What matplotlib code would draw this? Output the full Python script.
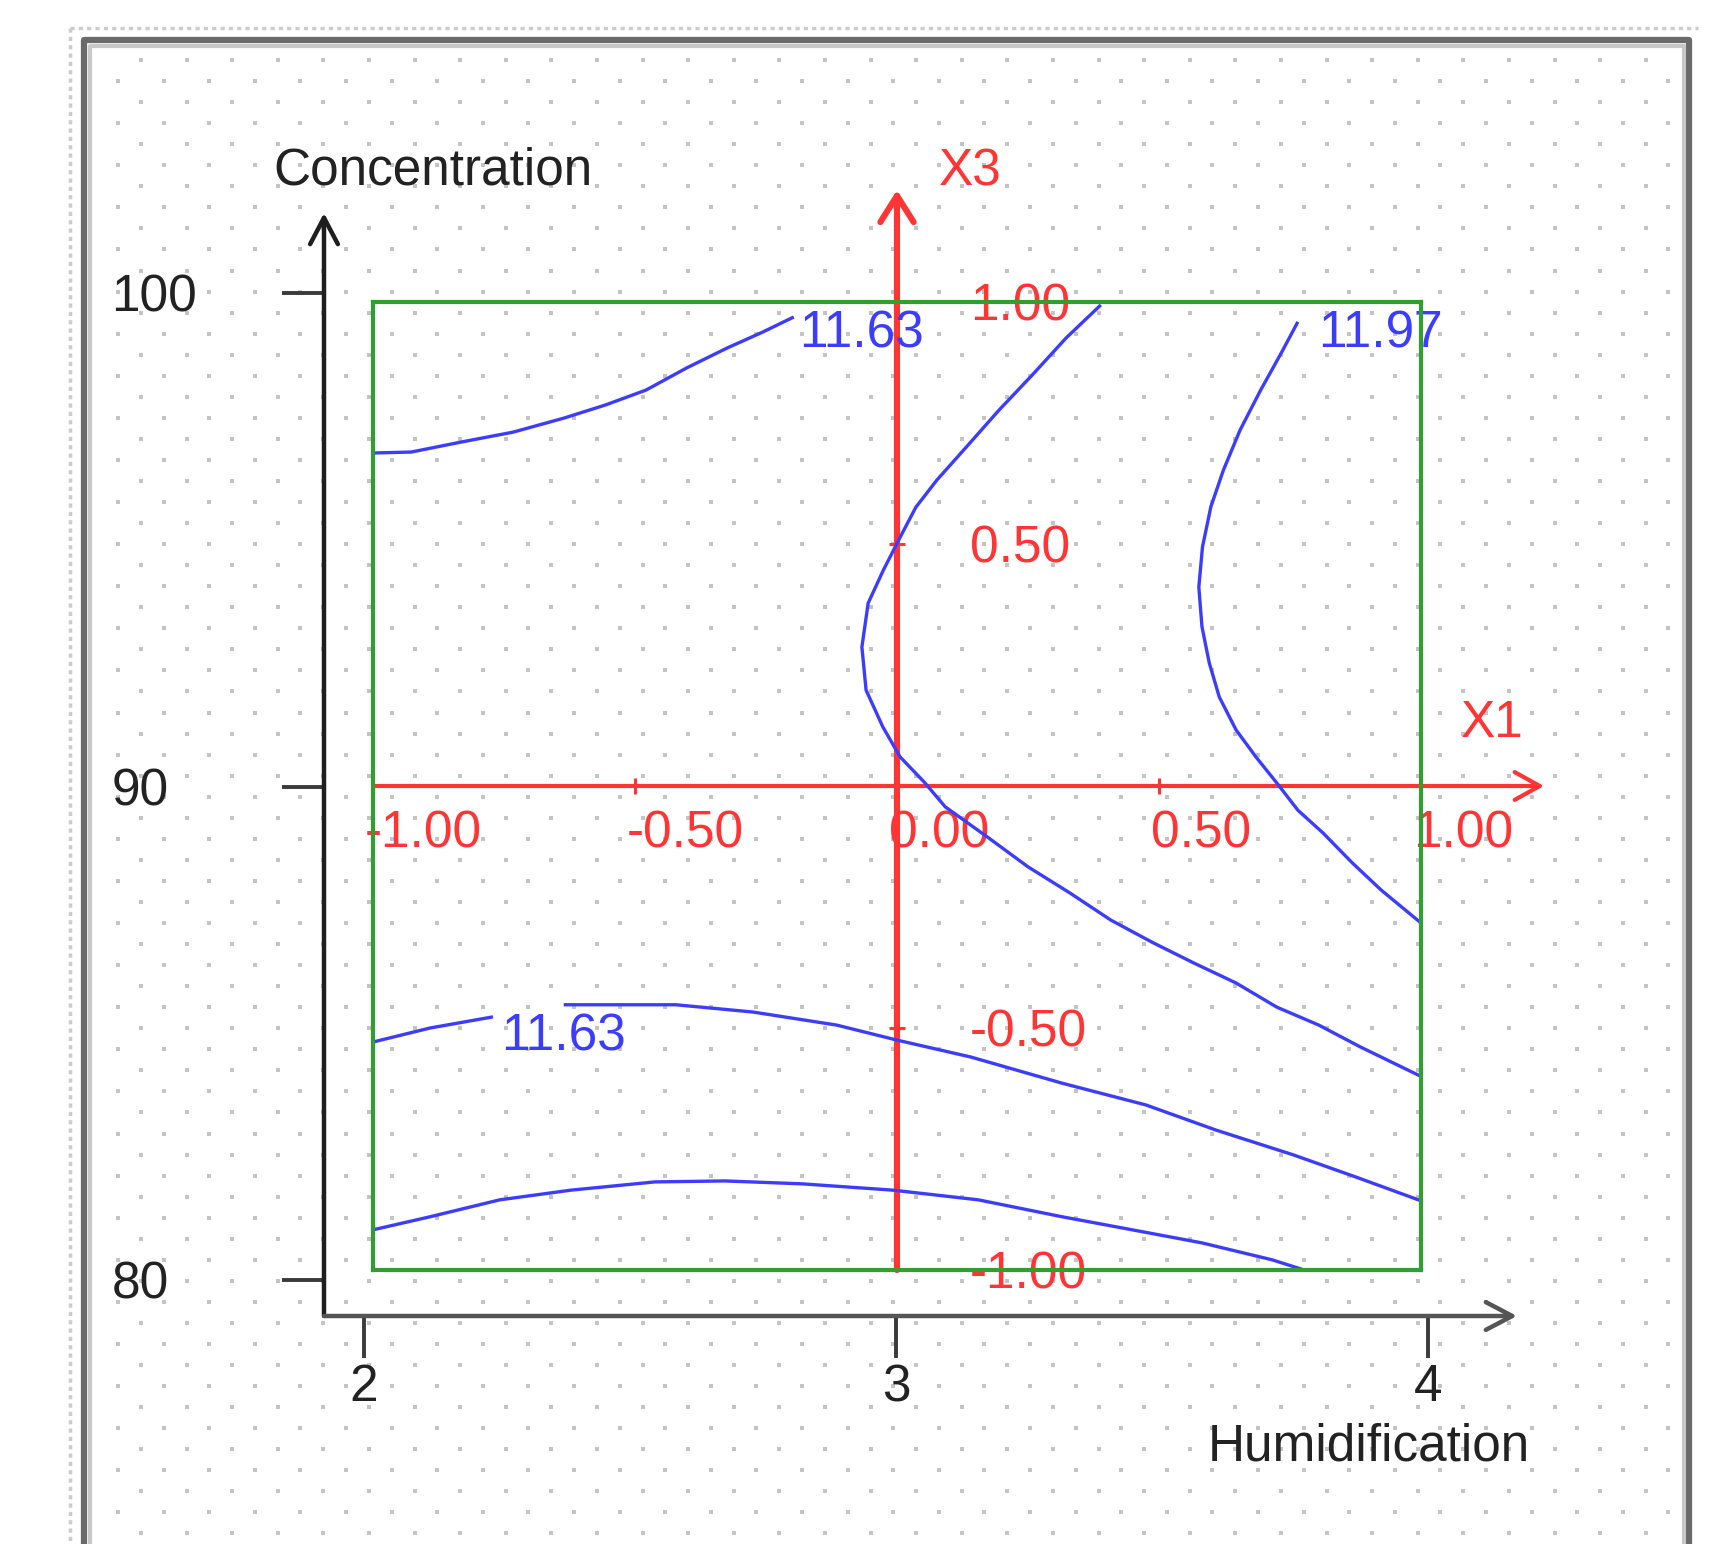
import numpy as np
import matplotlib.pyplot as plt

plt.rcParams['font.family'] = ['Liberation Sans', 'DejaVu Sans']

# natural factor scales
humid_ticks = [2, 3, 4]
conc_ticks = [80, 90, 100]

# coded factor scales (red axes)
x1_ticks = [-1.0, -0.5, 0.0, 0.5, 1.0]
x3_ticks = [-1.0, -0.5, 0.5, 1.0]

# iso-response lines in coded units (X1, X3)
upper_1163 = [(-1.0, 0.688), (-0.927, 0.690), (-0.830, 0.711), (-0.733, 0.731),
              (-0.636, 0.760), (-0.557, 0.787), (-0.479, 0.818), (-0.401, 0.864),
              (-0.324, 0.905), (-0.256, 0.938), (-0.197, 0.969)]
middle_line = [(0.389, 0.994), (0.323, 0.926), (0.258, 0.849), (0.195, 0.777),
               (0.132, 0.700), (0.076, 0.632), (0.036, 0.576), (0.006, 0.514),
               (-0.026, 0.446), (-0.055, 0.378), (-0.067, 0.287), (-0.059, 0.198),
               (-0.027, 0.122), (0.006, 0.060), (0.052, 0.008), (0.092, -0.043),
               (0.172, -0.105), (0.250, -0.167), (0.330, -0.221), (0.408, -0.277),
               (0.489, -0.324), (0.567, -0.366), (0.647, -0.407), (0.725, -0.457),
               (0.805, -0.494), (0.884, -0.539), (1.0, -0.600)]
line_1197 = [(0.765, 0.959), (0.733, 0.894), (0.694, 0.818), (0.655, 0.736),
             (0.623, 0.653), (0.599, 0.577), (0.583, 0.494), (0.576, 0.411),
             (0.582, 0.329), (0.596, 0.254), (0.615, 0.184), (0.647, 0.116),
             (0.685, 0.060), (0.725, 0.006), (0.765, -0.050), (0.813, -0.097),
             (0.869, -0.159), (0.924, -0.215), (1.0, -0.283)]
lower_1163_left = [(-1.0, -0.529), (-0.891, -0.500), (-0.771, -0.477)]
lower_1163_right = [(-0.636, -0.452), (-0.422, -0.452), (-0.275, -0.467),
                    (-0.115, -0.494), (0.0, -0.525), (0.141, -0.560),
                    (0.315, -0.614), (0.475, -0.659), (0.609, -0.711),
                    (0.756, -0.762), (0.876, -0.808), (1.0, -0.857)]
lowest_line = [(-1.0, -0.917), (-0.891, -0.890), (-0.758, -0.855), (-0.622, -0.835),
               (-0.462, -0.818), (-0.328, -0.816), (-0.181, -0.822), (-0.008, -0.835),
               (0.155, -0.855), (0.315, -0.890), (0.449, -0.917), (0.582, -0.944),
               (0.716, -0.979), (0.777, -1.0)]

# level labels: value and where the text sits (coded units)
level_values = [11.63, 11.97, 11.63]
level_pos = [(-0.067, 0.934), (0.922, 0.934), (-0.637, -0.519)]

W, H = 1731, 1544
DPI = 100
FS = 37
RED = '#ff3434'
BLUE = '#3c3cff'
GREEN = '#2f9f2f'


def box(left, top, right, bottom):
    return [left / W, 1 - bottom / H, (right - left) / W, (bottom - top) / H]


fig = plt.figure(figsize=(W / DPI, H / DPI), dpi=DPI)

# dotted canvas and sunken frame, in pixel units
bg = fig.add_axes([0, 0, 1, 1])
bg.set_xlim(0, W)
bg.set_ylim(H, 0)
bg.axis('off')
dot_x, dot_y = [], []
for i, y in enumerate(np.arange(60, H, 21.05)):
    xs = np.arange(141 if i % 2 == 0 else 118, 1680, 45.6)
    dot_x.extend(xs)
    dot_y.extend([y] * len(xs))
bg.scatter(dot_x, dot_y, s=11, marker='s', c='#c4c4c4', linewidths=0)
bg.plot([70, 1698], [28, 28], color='#cccccc', lw=2.5, ls=(0, (1.2, 1.2)))
bg.plot([70, 70], [28, H], color='#cccccc', lw=2.5, ls=(0, (1.2, 1.2)))
bg.plot([84.5, 84.5, 1689.5, 1689.5], [H, 40, 40, H], color='#6a6a6a', lw=4.5)
bg.plot([90, 90, 1684, 1684], [H, 46, 46, H], color='#c8c8c8', lw=3)
bg.text(433, 171, 'Concentration', ha='center', va='center', fontsize=FS, color='#222222')
bg.text(1369, 1447, 'Humidification', ha='center', va='center', fontsize=FS, color='#222222')

# natural axes: Humidification / Concentration
AX_L, AX_B, AX_R, AX_T = 324, 1316, 1517, 213
X2_PX, X4_PX = 364, 1428
Y80_PX, Y100_PX = 1280, 293
ax = fig.add_axes(box(AX_L, AX_T, AX_R, AX_B))
ax.patch.set_alpha(0)
ux = (humid_ticks[-1] - humid_ticks[0]) / (X4_PX - X2_PX)
uy = (conc_ticks[-1] - conc_ticks[0]) / (Y80_PX - Y100_PX)
ax.set_xlim(humid_ticks[0] - (X2_PX - AX_L) * ux, humid_ticks[-1] + (AX_R - X4_PX) * ux)
ax.set_ylim(conc_ticks[0] - (AX_B - Y80_PX) * uy, conc_ticks[-1] + (Y100_PX - AX_T) * uy)
for s in ax.spines.values():
    s.set_visible(False)
ax.set_xticks(humid_ticks)
ax.set_yticks(conc_ticks)
ax.tick_params(direction='out', length=30, width=2.8, color='#3a3a3a',
               labelsize=FS, labelcolor='#222222')
ax.tick_params(axis='y', pad=123)
ax.tick_params(axis='x', pad=4)
for lab in ax.get_yticklabels():
    lab.set_horizontalalignment('left')
black_head = '->,head_length=0.38,head_width=0.2'
ax.annotate('', xy=(0, 1), xytext=(0, 0), xycoords='axes fraction',
            arrowprops=dict(arrowstyle=black_head, lw=3.2, color='#1e1e1e',
                            shrinkA=0, shrinkB=0, mutation_scale=50))
ax.annotate('', xy=(1, 0), xytext=(0, 0), xycoords='axes fraction',
            arrowprops=dict(arrowstyle=black_head, lw=3.2, color='#555555',
                            shrinkA=0, shrinkB=0, mutation_scale=50))

# coded axes: X1 / X3 inside the green design region
bx = fig.add_axes(box(373, 302, 1421, 1270))
bx.patch.set_alpha(0)
bx.set_xlim(-1, 1)
bx.set_ylim(-1, 1)
bx.set_xticks([])
bx.set_yticks([])
for s in bx.spines.values():
    s.set_color(GREEN)
    s.set_linewidth(3)
    s.set_zorder(4)

tip_x1 = 1 + (1544 - 1421) / 524
tip_x3 = 1 + (302 - 190) / 484
bx.annotate('', xy=(tip_x1, 0), xytext=(-1, 0), annotation_clip=False,
            arrowprops=dict(arrowstyle='->,head_length=0.36,head_width=0.2',
                            color=RED, lw=3.0, shrinkA=0, shrinkB=0,
                            mutation_scale=50))
bx.annotate('', xy=(0, tip_x3), xytext=(0, -1), annotation_clip=False,
            arrowprops=dict(arrowstyle='->,head_length=0.38,head_width=0.24',
                            color=RED, lw=4.4, shrinkA=0, shrinkB=0,
                            mutation_scale=50))
bx.plot(x1_ticks, np.zeros(len(x1_ticks)), ls='none', marker='|', ms=12, mew=2.2,
        color=RED, clip_on=False)
bx.plot(np.zeros(len(x3_ticks)), x3_ticks, ls='none', marker='_', ms=12, mew=2.2,
        color=RED, clip_on=False)
for v in x1_ticks:
    bx.annotate(f'{v:.2f}', xy=(v, 0), xytext=(-6, -34.5),
                textcoords='offset points', ha='left', va='center', fontsize=FS,
                color=RED, annotation_clip=False)
for v in x3_ticks:
    bx.annotate(f'{v:.2f}', xy=(0, v), xytext=(52.5, -3.5),
                textcoords='offset points', ha='left', va='center', fontsize=FS,
                color=RED, annotation_clip=False)
bx.annotate('X3', xy=(0, tip_x3), xytext=(53, 13), textcoords='offset points',
            ha='center', va='center', fontsize=FS, color=RED, annotation_clip=False)
bx.annotate('X1', xy=(tip_x1, 0), xytext=(-37, 45), textcoords='offset points',
            ha='center', va='center', fontsize=FS, color=RED, annotation_clip=False)

# iso-response lines
for curve in [upper_1163, middle_line, line_1197, lower_1163_left,
              lower_1163_right, lowest_line]:
    cx, cy = zip(*curve)
    bx.plot(cx, cy, color=BLUE, lw=2.4, solid_capstyle='butt', zorder=3)
for val, (px, py) in zip(level_values, level_pos):
    bx.text(px, py, f'{val:.2f}', ha='center', va='center', fontsize=FS,
            color=BLUE, zorder=3, clip_on=False)

fig.savefig('out.png', dpi=DPI)
